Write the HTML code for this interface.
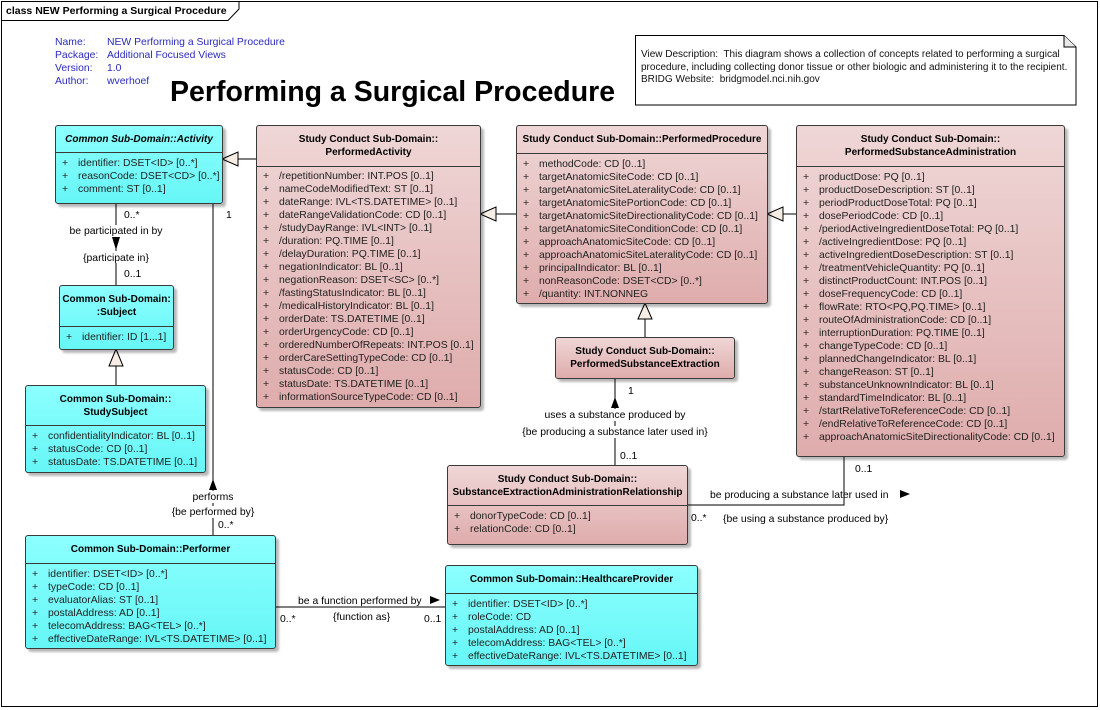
<!DOCTYPE html>
<html><head><meta charset="utf-8"><style>
*{margin:0;padding:0;box-sizing:border-box}
body{width:1100px;height:710px;background:#fff;position:relative;overflow:hidden;font-family:"Liberation Sans",sans-serif;font-size:10.4px;color:#000}
.abs{position:absolute;white-space:nowrap}
.box{position:absolute;border:1px solid #3a3a3a;border-radius:3px;box-shadow:3px 3px 2px rgba(0,0,0,.28);overflow:hidden}
.cy{background:linear-gradient(#8cffff,#66f6f6)}
.pk{background:linear-gradient(#efd6d6,#dfacac)}
.hd{border-bottom:1px solid #3a3a3a;display:flex;align-items:center;justify-content:center;text-align:center;font-weight:bold;line-height:13px;font-size:10px}
.at{padding-top:4px}
.at div{height:13px;line-height:13px;position:relative;padding-left:22px;white-space:nowrap;color:#222}
.at div:before{content:"+";position:absolute;left:6px}
svg{position:absolute;left:0;top:0}
svg text{font-family:"Liberation Sans",sans-serif;font-size:10.4px;fill:#000}
</style></head><body>
<svg width="1100" height="710">
<rect x="1.5" y="1.5" width="1096" height="705" fill="none" stroke="#000"/>
<path d="M1.5 20.5 H228 L239 9 V1.5" fill="none" stroke="#000"/>
<g stroke="#000" fill="none">
<line x1="256" y1="159" x2="236" y2="159"/>
<line x1="516" y1="214" x2="494" y2="214"/>
<line x1="796" y1="214" x2="781" y2="214"/>
<line x1="645" y1="337" x2="645" y2="317"/>
<line x1="116" y1="385" x2="116" y2="364"/>
<line x1="116" y1="203" x2="116" y2="285"/>
<line x1="213" y1="203" x2="213" y2="535"/>
<line x1="615" y1="378" x2="615" y2="465"/>
<polyline points="687,505 844,505 844,456"/>
<line x1="275" y1="607" x2="445" y2="607"/>
</g>
<g stroke="#000" fill="#f6eee4">
<polygon points="222,159 238,152 238,166"/>
<polygon points="480,214 496,207 496,221"/>
<polygon points="767,214 783,207 783,221"/>
<polygon points="645,303 638,319 652,319"/>
<polygon points="116,349 109,366 123,366"/>
</g>
<g fill="#000">
<polygon points="112,237 120,237 116,250"/>
<polygon points="213,479 209,490 217,490"/>
<polygon points="615,397 611,408 619,408"/>
<polygon points="900,490 910,494 900,498"/>
<polygon points="430,596 440,600 430,604"/>
</g>
<g fill="#fff">
<rect x="62" y="225" width="108" height="12"/><rect x="76" y="251" width="80" height="12"/>
<rect x="186" y="491" width="54" height="12"/><rect x="166" y="506" width="94" height="12"/>
<rect x="536" y="409" width="158" height="12"/><rect x="514" y="426" width="204" height="12"/>
</g>
<text x="124" y="218">0..*</text>
<text x="116" y="234" text-anchor="middle">be participated in by</text>
<text x="116" y="261" text-anchor="middle">{participate in}</text>
<text x="124" y="277">0..1</text>
<text x="226" y="218">1</text>
<text x="213" y="500" text-anchor="middle">performs</text>
<text x="213" y="515" text-anchor="middle">{be performed by}</text>
<text x="218" y="528">0..*</text>
<text x="628" y="394">1</text>
<text x="615" y="418" text-anchor="middle">uses a substance produced by</text>
<text x="615" y="435" text-anchor="middle">{be producing a substance later used in}</text>
<text x="620" y="459">0..1</text>
<text x="855" y="472">0..1</text>
<text x="710" y="498">be producing a substance later used in</text>
<text x="691" y="521">0..*</text>
<text x="723" y="522">{be using a substance produced by}</text>
<text x="298" y="604">be a function performed by</text>
<text x="280" y="622">0..*</text>
<text x="333" y="620">{function as}</text>
<text x="424" y="622">0..1</text>
<path d="M635.5 35.5 H1064 L1076 47 V105 H635.5 Z" fill="#fff" stroke="#000"/>
<path d="M1064 35.5 V47 H1076" fill="#e8e8e8" stroke="#000"/>
</svg>
<div class="abs" style="left:6px;top:5px;font-weight:bold;font-size:10.5px">class NEW Performing a Surgical Procedure</div>
<div class="abs" style="left:55px;top:36px;line-height:13px;color:#2b2bbb"><div>Name:</div><div>Package:</div><div>Version:</div><div>Author:</div></div>
<div class="abs" style="left:107px;top:36px;line-height:13px;color:#2b2bbb"><div>NEW Performing a Surgical Procedure</div><div>Additional Focused Views</div><div>1.0</div><div>wverhoef</div></div>
<div class="abs" style="left:170px;top:75px;font-weight:bold;font-size:28.5px;line-height:34px">Performing a Surgical Procedure</div>
<div class="abs" style="left:641px;top:49px;line-height:12.5px;font-size:10px;color:#111"><div>View Description:&nbsp; This diagram shows a collection of concepts related to performing a surgical</div><div>procedure, including collecting donor tissue or other biologic and administering it to the recipient.</div><div>BRIDG Website:&nbsp; bridgmodel.nci.nih.gov</div></div>

<div class="box cy" style="left:55px;top:125px;width:168px;height:79px"><div class="hd" style="height:27px;font-style:italic">Common Sub-Domain::Activity</div><div class="at"><div>identifier: DSET&lt;ID&gt; [0..*]</div><div>reasonCode: DSET&lt;CD&gt; [0..*]</div><div>comment: ST [0..1]</div></div></div>

<div class="box pk" style="left:256px;top:125px;width:225px;height:283px"><div class="hd" style="height:41px">Study Conduct Sub-Domain::<br>PerformedActivity</div><div class="at" style="padding-top:3px"><div>/repetitionNumber: INT.POS [0..1]</div><div>nameCodeModifiedText: ST [0..1]</div><div>dateRange: IVL&lt;TS.DATETIME&gt; [0..1]</div><div>dateRangeValidationCode: CD [0..1]</div><div>/studyDayRange: IVL&lt;INT&gt; [0..1]</div><div>/duration: PQ.TIME [0..1]</div><div>/delayDuration: PQ.TIME [0..1]</div><div>negationIndicator: BL [0..1]</div><div>negationReason: DSET&lt;SC&gt; [0..*]</div><div>/fastingStatusIndicator: BL [0..1]</div><div>/medicalHistoryIndicator: BL [0..1]</div><div>orderDate: TS.DATETIME [0..1]</div><div>orderUrgencyCode: CD [0..1]</div><div>orderedNumberOfRepeats: INT.POS [0..1]</div><div>orderCareSettingTypeCode: CD [0..1]</div><div>statusCode: CD [0..1]</div><div>statusDate: TS.DATETIME [0..1]</div><div>informationSourceTypeCode: CD [0..1]</div></div></div>

<div class="box pk" style="left:516px;top:125px;width:252px;height:179px"><div class="hd" style="height:28px">Study Conduct Sub-Domain::PerformedProcedure</div><div class="at"><div>methodCode: CD [0..1]</div><div>targetAnatomicSiteCode: CD [0..1]</div><div>targetAnatomicSiteLateralityCode: CD [0..1]</div><div>targetAnatomicSitePortionCode: CD [0..1]</div><div>targetAnatomicSiteDirectionalityCode: CD [0..1]</div><div>targetAnatomicSiteConditionCode: CD [0..1]</div><div>approachAnatomicSiteCode: CD [0..1]</div><div>approachAnatomicSiteLateralityCode: CD [0..1]</div><div>principalIndicator: BL [0..1]</div><div>nonReasonCode: DSET&lt;CD&gt; [0..*]</div><div>/quantity: INT.NONNEG</div></div></div>

<div class="box pk" style="left:796px;top:125px;width:269px;height:332px"><div class="hd" style="height:41px">Study Conduct Sub-Domain::<br>PerformedSubstanceAdministration</div><div class="at"><div>productDose: PQ [0..1]</div><div>productDoseDescription: ST [0..1]</div><div>periodProductDoseTotal: PQ [0..1]</div><div>dosePeriodCode: CD [0..1]</div><div>/periodActiveIngredientDoseTotal: PQ [0..1]</div><div>/activeIngredientDose: PQ [0..1]</div><div>activeIngredientDoseDescription: ST [0..1]</div><div>/treatmentVehicleQuantity: PQ [0..1]</div><div>distinctProductCount: INT.POS [0..1]</div><div>doseFrequencyCode: CD [0..1]</div><div>flowRate: RTO&lt;PQ,PQ.TIME&gt; [0..1]</div><div>routeOfAdministrationCode: CD [0..1]</div><div>interruptionDuration: PQ.TIME [0..1]</div><div>changeTypeCode: CD [0..1]</div><div>plannedChangeIndicator: BL [0..1]</div><div>changeReason: ST [0..1]</div><div>substanceUnknownIndicator: BL [0..1]</div><div>standardTimeIndicator: BL [0..1]</div><div>/startRelativeToReferenceCode: CD [0..1]</div><div>/endRelativeToReferenceCode: CD [0..1]</div><div>approachAnatomicSiteDirectionalityCode: CD [0..1]</div></div></div>

<div class="box pk" style="left:555px;top:337px;width:180px;height:42px"><div class="hd" style="height:40px;border:none">Study Conduct Sub-Domain::<br>PerformedSubstanceExtraction</div></div>

<div class="box pk" style="left:447px;top:465px;width:241px;height:80px"><div class="hd" style="height:40px">Study Conduct Sub-Domain::<br>SubstanceExtractionAdministrationRelationship</div><div class="at"><div>donorTypeCode: CD [0..1]</div><div>relationCode: CD [0..1]</div></div></div>

<div class="box cy" style="left:59px;top:285px;width:115px;height:65px"><div class="hd" style="height:41px">Common Sub-Domain:<br>:Subject</div><div class="at"><div>identifier: ID [1...1]</div></div></div>

<div class="box cy" style="left:25px;top:385px;width:181px;height:88px"><div class="hd" style="height:40px">Common Sub-Domain::<br>StudySubject</div><div class="at"><div>confidentialityIndicator: BL [0..1]</div><div>statusCode: CD [0..1]</div><div>statusDate: TS.DATETIME [0..1]</div></div></div>

<div class="box cy" style="left:25px;top:535px;width:251px;height:114px"><div class="hd" style="height:28px">Common Sub-Domain::Performer</div><div class="at"><div>identifier: DSET&lt;ID&gt; [0..*]</div><div>typeCode: CD [0..1]</div><div>evaluatorAlias: ST [0..1]</div><div>postalAddress: AD [0..1]</div><div>telecomAddress: BAG&lt;TEL&gt; [0..*]</div><div>effectiveDateRange: IVL&lt;TS.DATETIME&gt; [0..1]</div></div></div>

<div class="box cy" style="left:445px;top:565px;width:253px;height:101px"><div class="hd" style="height:28px">Common Sub-Domain::HealthcareProvider</div><div class="at"><div>identifier: DSET&lt;ID&gt; [0..*]</div><div>roleCode: CD</div><div>postalAddress: AD [0..1]</div><div>telecomAddress: BAG&lt;TEL&gt; [0..*]</div><div>effectiveDateRange: IVL&lt;TS.DATETIME&gt; [0..1]</div></div></div>
</body></html>
